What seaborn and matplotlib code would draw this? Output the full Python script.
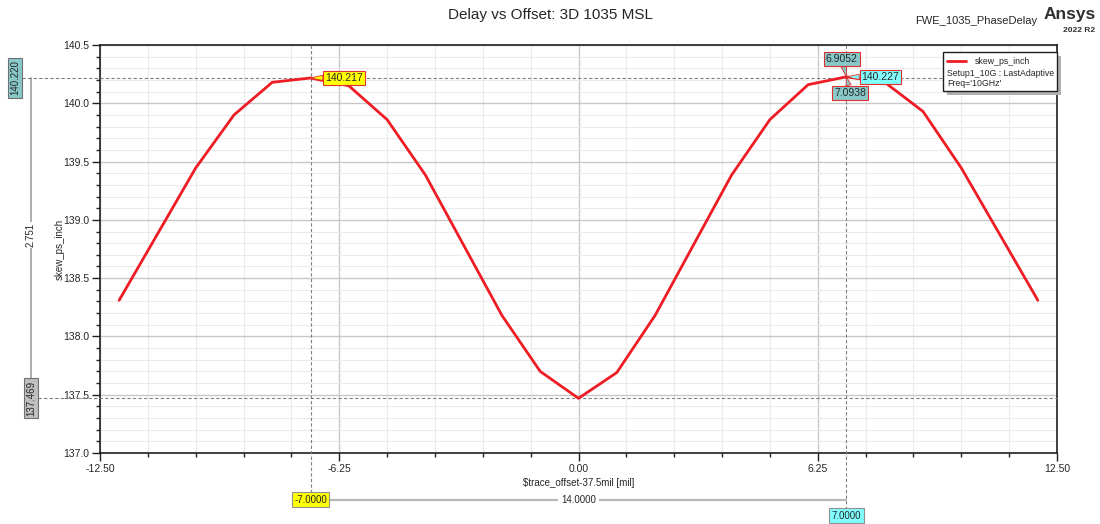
# Delay vs Offset chart (Ansys style) recreated with seaborn/matplotlib
import matplotlib.pyplot as plt
import seaborn as sns
from matplotlib.patches import Rectangle
from matplotlib.lines import Line2D
from matplotlib.ticker import MultipleLocator, FormatStrFormatter
from matplotlib.transforms import blended_transform_factory

# Data
offset = [-12, -10, -9, -8, -7, -6, -5, -4, -2, -1, 0, 1, 2, 4, 5, 6, 7, 8, 9, 10, 12]
skew = [138.31, 139.445, 139.90, 140.18, 140.217, 140.15, 139.86, 139.385, 138.18, 137.70,
        137.469, 137.69, 138.18, 139.385, 139.86, 140.16, 140.227, 140.18, 139.93, 139.445, 138.31]

x_ticks = [-12.5, -6.25, 0.0, 6.25, 12.5]
cursor_x = [-7.0, 7.0]
peak_y = [140.217, 140.227]
ref_y = [140.220, 137.469]
delta_y = 2.751
delta_x = 14.0
cross_x = [6.9052, 7.0938]

sns.set_style("white")
plt.rcParams["font.family"] = ["Liberation Sans", "DejaVu Sans"]

W, H = 1100, 524
fig = plt.figure(figsize=(11, 5.24), dpi=100)


def px(x, y):
    # figure pixel (from top-left) -> figure fraction
    return x / W, 1 - y / H


ax = fig.add_axes([100 / W, 71 / H, 957 / W, 408 / H])

red = "#EE1C24"
sns.lineplot(x=offset, y=skew, ax=ax, color=red, linewidth=2.0, legend=False, zorder=5)

ax.set_xlim(-12.5, 12.5)
ax.set_ylim(137.0, 140.5)
ax.set_xticks(x_ticks)
ax.xaxis.set_minor_locator(MultipleLocator(1.25))
ax.xaxis.set_major_formatter(FormatStrFormatter("%.2f"))
ax.yaxis.set_major_locator(MultipleLocator(0.5))
ax.yaxis.set_minor_locator(MultipleLocator(0.1))
ax.yaxis.set_major_formatter(FormatStrFormatter("%.1f"))

ax.grid(which="major", color="#C8C8C8", linewidth=1.0)
ax.grid(which="minor", color="#EBEBEB", linewidth=0.8)
ax.set_axisbelow(True)
for s in ax.spines.values():
    s.set_color("#202020")
    s.set_linewidth(1.2)
ax.tick_params(which="major", direction="out", length=6, width=1.0, labelsize=7.5,
               left=True, bottom=True, color="#202020", pad=2)
ax.tick_params(which="minor", direction="out", length=3, width=1.0,
               left=True, bottom=True, color="#202020")

ax.set_xlabel(r"\$trace_offset-37.5mil [mil]", fontsize=7)
ax.xaxis.set_label_coords(0.5, -0.062)
ax.set_ylabel("skew_ps_inch", fontsize=7)
ax.yaxis.set_label_coords(-0.037, 0.5)

fig.text(*px(550, 15), "Delay vs Offset: 3D 1035 MSL", fontsize=11, ha="center", va="center")
fig.text(*px(1037, 21), "FWE_1035_PhaseDelay", fontsize=8, ha="right", va="center")
fig.text(*px(1096, 15), "Ansys", fontsize=12.5, fontweight="bold", ha="right", va="center",
         color="#303030")
fig.text(*px(1095, 30), "2022 R2", fontsize=6, fontweight="bold", ha="right", va="center",
         color="#303030")

# cursors
gray = "#808080"
dash = (0, (3, 2))
ax_y = blended_transform_factory(ax.transAxes, ax.transData)
ax_x = blended_transform_factory(ax.transData, ax.transAxes)

ax.plot([-0.0815, 1], [ref_y[0]] * 2, transform=ax_y, clip_on=False,
        color=gray, lw=0.8, ls=dash, zorder=3)
ax.plot([-0.065, 1], [ref_y[1]] * 2, transform=ax_y, clip_on=False,
        color=gray, lw=0.8, ls=dash, zorder=3)
ax.plot([cursor_x[0]] * 2, [1, -0.096], transform=ax_x, clip_on=False,
        color=gray, lw=0.8, ls=dash, zorder=3)
ax.plot([cursor_x[1]] * 2, [1, -0.137], transform=ax_x, clip_on=False,
        color=gray, lw=0.8, ls=dash, zorder=3)

# y delta marker
ax.plot([-0.0721] * 2, ref_y, transform=ax_y, clip_on=False, color="#A0A0A0", lw=1.2)
ax.text(-0.0721, 138.87, f"{delta_y:.3f}", transform=ax_y, rotation=90, fontsize=7,
        ha="center", va="center", bbox=dict(fc="white", ec="none", pad=1))
ax.text(-0.0888, ref_y[0], f"{ref_y[0]:.3f}", transform=ax_y, rotation=90, fontsize=7,
        ha="center", va="center", zorder=6,
        bbox=dict(boxstyle="square,pad=0.25", fc="#88C8C8", ec="#707070", lw=0.8))
ax.text(-0.0721, ref_y[1], f"{ref_y[1]:.3f}", transform=ax_y, rotation=90, fontsize=7,
        ha="center", va="center", zorder=6,
        bbox=dict(boxstyle="square,pad=0.25", fc="#C0C0C0", ec="#707070", lw=0.8))

# x delta marker
ax.plot(cursor_x, [-0.115] * 2, transform=ax_x, clip_on=False, color="#B8B8B8", lw=1.6)
ax.text(0.0, -0.115, f"{delta_x:.4f}", transform=ax_x, fontsize=7, ha="center", va="center",
        bbox=dict(fc="white", ec="none", pad=2))
ax.text(cursor_x[0], -0.115, f"{cursor_x[0]:.4f}", transform=ax_x, fontsize=7,
        ha="center", va="center", zorder=6,
        bbox=dict(boxstyle="square,pad=0.25", fc="#FFFF00", ec="#909090", lw=0.8))
ax.text(cursor_x[1], -0.154, f"{cursor_x[1]:.4f}", transform=ax_x, fontsize=7,
        ha="center", va="center", zorder=6,
        bbox=dict(boxstyle="square,pad=0.25", fc="#80FFFF", ec="#909090", lw=0.8))


def callout(txt, xy, xytext, fc):
    ax.annotate(txt, xy=xy, xytext=xytext, fontsize=7.5, ha="center", va="center", zorder=7,
                bbox=dict(boxstyle="square,pad=0.2", fc=fc, ec="#E03030", lw=0.8),
                arrowprops=dict(arrowstyle="wedge,tail_width=0.5", fc=fc, ec="#E03030",
                                lw=0.6, shrinkA=0, shrinkB=0))


callout(f"{peak_y[0]:.3f}", (cursor_x[0], peak_y[0]), (-6.12, 140.22), "#FFFF00")
callout(f"{peak_y[1]:.3f}", (cursor_x[1], peak_y[1]), (7.89, 140.225), "#80FFFF")
callout(f"{cross_x[0]:.4f}", (cursor_x[1], peak_y[1]), (6.88, 140.38), "#88C8C8")
callout(f"{cross_x[1]:.4f}", (cursor_x[1], peak_y[1]), (7.1, 140.09), "#88C8C8")

# legend box
lx0, ly0, lx1, ly1 = 943, 52, 1057, 91
fig.patches.append(Rectangle(px(lx0 + 4, ly1 + 4), (lx1 - lx0) / W, (ly1 - ly0) / H,
                             transform=fig.transFigure, fc="#B0B0B0", ec="none", zorder=8))
fig.patches.append(Rectangle(px(lx0, ly1), (lx1 - lx0) / W, (ly1 - ly0) / H,
                             transform=fig.transFigure, fc="white", ec="#202020", lw=1.0,
                             zorder=9))
fig.lines.append(Line2D([947 / W, 966 / W], [px(0, 61)[1]] * 2, transform=fig.transFigure,
                        color=red, lw=2.0, zorder=10))
fig.text(*px(975, 62), "skew_ps_inch", fontsize=6.3, va="center", zorder=10)
fig.text(*px(947, 73), "Setup1_10G : LastAdaptive", fontsize=6.3, va="center", zorder=10)
fig.text(*px(947, 84), "Freq='10GHz'", fontsize=6.3, va="center", zorder=10)

plt.savefig("out.png", dpi=100)
